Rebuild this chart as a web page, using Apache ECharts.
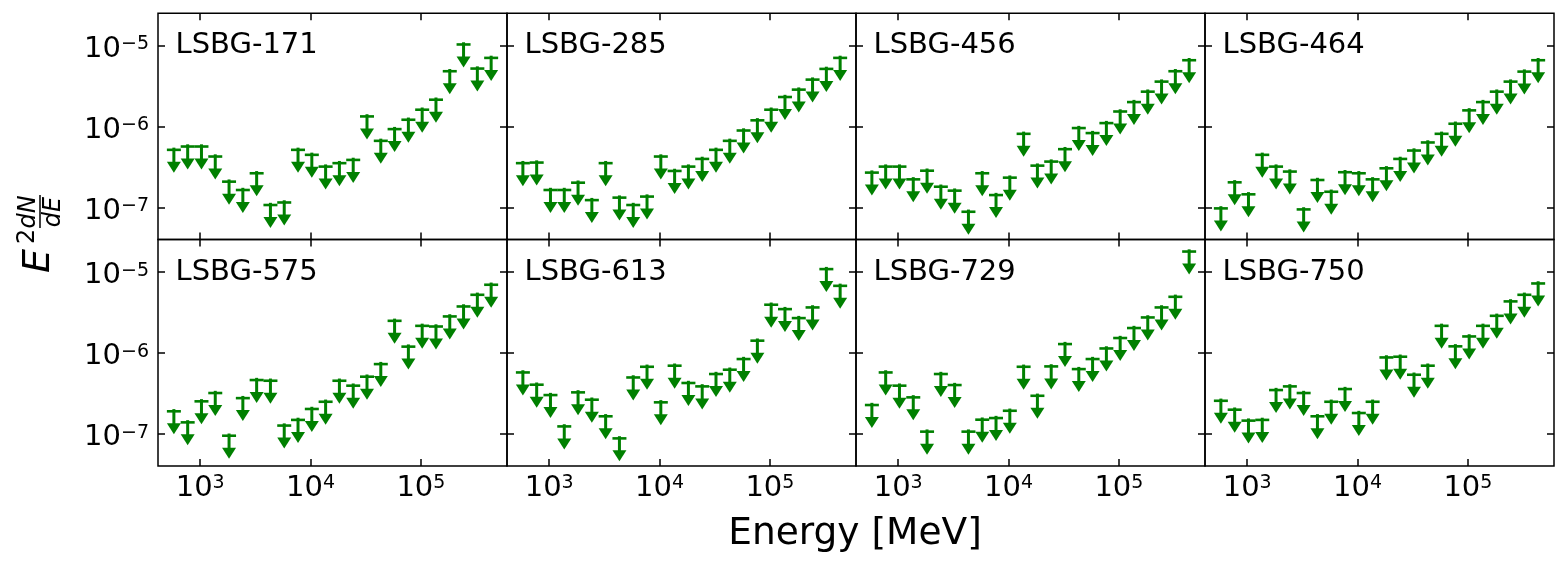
<!DOCTYPE html>
<html>
<head>
<meta charset="utf-8">
<script src="https://cdn.jsdelivr.net/npm/echarts@6/dist/echarts.min.js"></script>
<style>
html,body{margin:0;padding:0;background:#fff;}
#chart{width:1567px;height:569px;}
</style>
</head>
<body>
<div id="chart"></div>
<script>
// ---- data ----
const energies = [577.6, 770.2, 1027.1, 1369.6, 1826.4, 2435.5, 3247.8, 4331.0,
  5775.5, 7701.7, 10270.5, 13695.9, 18263.7, 24355, 32478, 43310,
  57755, 77017, 102705, 136959, 182637, 243551, 324780, 433100];

const sourceNames = ['LSBG-171', 'LSBG-285', 'LSBG-456', 'LSBG-464',
                     'LSBG-575', 'LSBG-613', 'LSBG-729', 'LSBG-750'];

const ul171 = [5.14e-7, 5.65e-7, 5.65e-7, 4.25e-7, 2.08e-7, 1.64e-7, 2.64e-7, 1.07e-7,
  1.15e-7, 5.14e-7, 4.46e-7, 3.19e-7, 3.52e-7, 3.86e-7, 1.33e-6, 6.64e-7,
  9.27e-7, 1.21e-6, 1.61e-6, 2.14e-6, 4.81e-6, 1.03e-5, 5.19e-6, 7.03e-6];
const ul285 = [3.52e-7, 3.58e-7, 1.64e-7, 1.64e-7, 2.02e-7, 1.23e-7, 3.52e-7, 1.32e-7,
  1.07e-7, 1.36e-7, 4.25e-7, 2.82e-7, 3.19e-7, 3.97e-7, 5.14e-7, 6.64e-7,
  8.91e-7, 1.19e-6, 1.61e-6, 2.31e-6, 2.85e-6, 3.79e-6, 5.14e-6, 7.03e-6];
const ul456 = [2.69e-7, 3.19e-7, 3.19e-7, 2.22e-7, 2.84e-7, 1.80e-7, 1.61e-7, 8.83e-8,
  2.64e-7, 1.42e-7, 2.33e-7, 8.11e-7, 3.28e-7, 3.68e-7, 5.24e-7, 9.55e-7,
  8.28e-7, 1.10e-6, 1.53e-6, 2.00e-6, 2.69e-6, 3.58e-6, 4.81e-6, 6.58e-6];
const ul464 = [9.72e-8, 2.04e-7, 1.45e-7, 4.46e-7, 3.19e-7, 2.77e-7, 9.44e-8, 2.18e-7,
  1.56e-7, 2.72e-7, 2.64e-7, 2.22e-7, 3.04e-7, 3.97e-7, 5.04e-7, 6.34e-7,
  8.11e-7, 1.08e-6, 1.58e-6, 2.00e-6, 2.69e-6, 3.58e-6, 4.76e-6, 6.58e-6];
const ul575 = [1.89e-7, 1.38e-7, 2.51e-7, 3.18e-7, 9.44e-8, 2.75e-7, 4.60e-7, 4.51e-7,
  1.26e-7, 1.48e-7, 2.02e-7, 2.48e-7, 4.51e-7, 3.92e-7, 5.06e-7, 7.24e-7,
  2.48e-6, 1.19e-6, 2.15e-6, 2.11e-6, 2.81e-6, 3.73e-6, 5.20e-6, 6.92e-6];
const ul613 = [5.71e-7, 4.03e-7, 3.00e-7, 1.23e-7, 3.24e-7, 2.63e-7, 1.64e-7, 8.75e-8,
  4.95e-7, 6.71e-7, 2.44e-7, 6.92e-7, 4.23e-7, 3.84e-7, 5.46e-7, 6.17e-7,
  8.36e-7, 1.41e-6, 3.92e-6, 3.46e-6, 2.68e-6, 3.63e-6, 1.08e-5, 6.71e-6];
const ul729 = [2.26e-7, 5.71e-7, 3.92e-7, 2.81e-7, 1.06e-7, 5.46e-7, 3.99e-7, 1.06e-7,
  1.49e-7, 1.56e-7, 1.92e-7, 6.71e-7, 2.94e-7, 6.78e-7, 1.28e-6, 6.28e-7,
  8.36e-7, 1.13e-6, 1.52e-6, 2.02e-6, 2.73e-6, 3.63e-6, 4.91e-6, 1.78e-5];
const ul750 = [2.55e-7, 1.98e-7, 1.45e-7, 1.48e-7, 3.46e-7, 3.84e-7, 3.18e-7, 1.64e-7,
  2.48e-7, 3.56e-7, 1.80e-7, 2.48e-7, 8.75e-7, 8.93e-7, 5.35e-7, 6.92e-7,
  2.15e-6, 1.20e-6, 1.59e-6, 2.15e-6, 2.86e-6, 4.31e-6, 5.20e-6, 7.18e-6];

const upperLimits = [ul171, ul285, ul456, ul464, ul575, ul613, ul729, ul750];

const xTicks = [1e3, 1e4, 1e5];
const yTicks = [1e-7, 1e-6, 1e-5];
const xRange = [414.7, 602900];
const yRange = [4e-8, 2.5e-5];

// ---- style / layout ----
const GREEN = '#008000';
const FONT = 'DejaVu Sans';
const colLeft = [158, 507, 856, 1205];
const colWidth = 349;
const rowTop = [13.3, 239.6];
const rowHeight = 226.3;
const TIP_FRACTION = 0.52;

function supFormatter(v) {
  const e = Math.round(Math.log10(v));
  const s = e < 0 ? '\u2212' + Math.abs(e) : String(e);
  return '{b|10}{s|' + s + '}';
}
const richStyle = {
  b: {fontFamily: FONT, fontSize: 29, color: '#000', lineHeight: 29},
  s: {fontFamily: FONT, fontSize: 19, color: '#000', verticalAlign: 'top', lineHeight: 19}
};

function renderUL(params, api) {
  const e = api.value(0), v = api.value(1);
  const cap = api.coord([e, v]);
  const tip = api.coord([e, v * TIP_FRACTION]);
  const hw = 7, th = 11, capHalf = 7;
  return {
    type: 'group',
    children: [
      {type: 'line', shape: {x1: cap[0] - capHalf, y1: cap[1], x2: cap[0] + capHalf, y2: cap[1]},
       style: {stroke: GREEN, lineWidth: 2.6}},
      {type: 'line', shape: {x1: cap[0], y1: cap[1] - 2.2, x2: tip[0], y2: tip[1] - th + 1},
       style: {stroke: GREEN, lineWidth: 3}},
      {type: 'polygon', shape: {points: [[tip[0] - hw, tip[1] - th], [tip[0] + hw, tip[1] - th], [tip[0], tip[1]]]},
       style: {fill: GREEN}}
    ]
  };
}

const grids = [], xAxes = [], yAxes = [], series = [], graphics = [];
const tickStyle = {show: true, inside: true, length: 7, lineStyle: {color: '#000', width: 1.5}};

for (let i = 0; i < 8; i++) {
  const r = Math.floor(i / 4), c = i % 4;
  grids.push({left: colLeft[c], top: rowTop[r], width: colWidth, height: rowHeight,
    show: true, borderColor: '#000', borderWidth: 1.5, backgroundColor: 'transparent'});
  ['bottom', 'top'].forEach(function (pos) {
    xAxes.push({type: 'log', logBase: 10, gridIndex: i, position: pos, min: xRange[0], max: xRange[1],
      axisLine: {show: false}, splitLine: {show: false}, minorTick: {show: false},
      axisTick: Object.assign({customValues: xTicks}, tickStyle),
      axisLabel: {show: pos === 'bottom' && r === 1, customValues: xTicks, margin: 8,
        formatter: supFormatter, rich: richStyle}
    });
  });
  ['left', 'right'].forEach(function (pos) {
    yAxes.push({type: 'log', logBase: 10, gridIndex: i, position: pos, min: yRange[0], max: yRange[1],
      axisLine: {show: false}, splitLine: {show: false}, minorTick: {show: false},
      axisTick: Object.assign({customValues: yTicks}, tickStyle),
      axisLabel: {show: pos === 'left' && c === 0, customValues: yTicks, margin: 9,
        formatter: supFormatter, rich: richStyle, padding: [8, 0, 0, 0]}
    });
  });
  series.push({
    type: 'custom', name: sourceNames[i], coordinateSystem: 'cartesian2d',
    xAxisIndex: 2 * i, yAxisIndex: 2 * i,
    data: energies.map(function (en, k) { return [en, upperLimits[i][k]]; }),
    renderItem: renderUL, clip: false, silent: true
  });
  graphics.push({type: 'text', x: colLeft[c] + 17.5, y: rowTop[r] + 41 - 8.6,
    style: {text: sourceNames[i], font: '29px "' + FONT + '"', fill: '#000', align: 'left', verticalAlign: 'middle'}});
}

graphics.push({type: 'text', x: 855, y: 545 - 11.1,
  style: {text: 'Energy [MeV]', font: '37.5px "' + FONT + '"', fill: '#000', align: 'center', verticalAlign: 'middle'}});

// y axis label: E^2 dN/dE (rotated)
graphics.push({type: 'group', x: 50, y: 273, rotation: Math.PI / 2, children: [
  {type: 'text', x: 0, y: -11.3, style: {text: 'E', font: 'italic 38px "' + FONT + '"', fill: '#000', align: 'left', verticalAlign: 'middle'}},
  {type: 'text', x: 29, y: -15 - 7, style: {text: '2', font: '24px "' + FONT + '"', fill: '#000', align: 'left', verticalAlign: 'middle'}},
  {type: 'text', x: 61, y: -14 - 7, style: {text: 'dN', font: 'italic 24px "' + FONT + '"', fill: '#000', align: 'center', verticalAlign: 'middle'}},
  {type: 'line', shape: {x1: 45, y1: -10, x2: 78, y2: -10}, style: {stroke: '#000', lineWidth: 1.5}},
  {type: 'text', x: 61, y: 11 - 7, style: {text: 'dE', font: 'italic 24px "' + FONT + '"', fill: '#000', align: 'center', verticalAlign: 'middle'}}
]});

const chart = echarts.init(document.getElementById('chart'), null, {renderer: 'canvas'});
chart.setOption({
  animation: false,
  backgroundColor: '#fff',
  grid: grids,
  xAxis: xAxes,
  yAxis: yAxes,
  series: series,
  graphic: graphics
});
</script>
</body>
</html>
